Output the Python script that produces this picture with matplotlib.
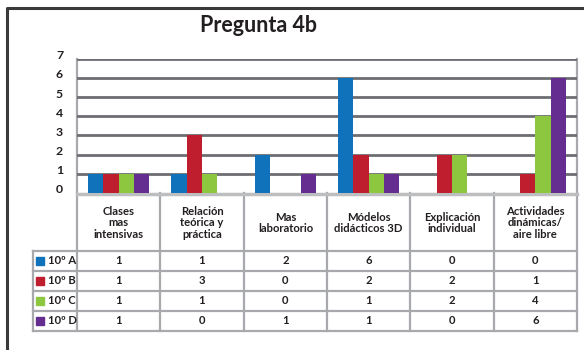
import numpy as np
import matplotlib.pyplot as plt
import matplotlib.transforms as mtransforms
from matplotlib.patches import Rectangle

plt.rcParams['font.family'] = ['Lato', 'DejaVu Sans']

# categorías y valores por curso
categorias = ['Clases\nmas\nintensivas', 'Relación\nteórica y\npráctica', 'Mas\nlaboratorio',
              'Módelos\ndidácticos 3D', 'Explicación\nindividual', 'Actividades\ndinámicas/\naire libre']
cursos = ['10º A', '10º B', '10º C', '10º D']
curso_a = [1, 1, 2, 6, 0, 0]
curso_b = [1, 3, 0, 2, 2, 1]
curso_c = [1, 1, 0, 1, 2, 4]
curso_d = [1, 0, 1, 1, 0, 6]
series = [curso_a, curso_b, curso_c, curso_d]
colores = ['#0f72bb', '#be1e2d', '#8dc63f', '#662d91']

W, H = 584, 350
fig = plt.figure(figsize=(W / 100, H / 100), dpi=100)

# capa en pixeles para el marco y la tabla
capa = fig.add_axes([0, 0, 1, 1])
capa.set_xlim(0, W)
capa.set_ylim(H, 0)
capa.axis('off')

# coordenadas del área del gráfico
x0, x1 = 77, 577
y_top, y_cero = 59, 192.7
ax = fig.add_axes([x0 / W, (H - y_cero) / H, (x1 - x0) / W, (y_cero - y_top) / H])

n = len(categorias)
x = np.arange(n) + 0.5
ancho = 0.184
for i, (vals, col) in enumerate(zip(series, colores)):
    ax.bar(x + (i - 1.5) * ancho, vals, ancho, color=col, zorder=3, label=cursos[i])

ax.set_xlim(0, n)
ax.set_ylim(0, 7)
ax.set_yticks(range(8))
ax.set_xticks([])
for g in range(1, 8):
    ax.axhline(g, color='#6d6e71', lw=2, zorder=1)
for s in ax.spines.values():
    s.set_visible(False)
ax.tick_params(axis='y', length=0, pad=10, labelsize=8.8, labelcolor='#231f20')
subir = mtransforms.ScaledTranslation(0, 3 / 72, fig.dpi_scale_trans)
for t in ax.get_yticklabels():
    t.set_fontweight('bold')
    t.set_transform(t.get_transform() + subir)
ax.patch.set_alpha(0)

# marco exterior
capa.plot([7, 7, W + 5], [H + 5, 8, 8], color='#3a3a3a', lw=2.2, solid_capstyle='butt')

capa.text(259, 25, 'Pregunta 4b', ha='center', va='center', fontsize=15.5,
          fontweight='bold', color='#231f20')

# tabla de datos
bordes = np.linspace(x0, x1, n + 1)
y_cab = 251
alto_fila = 20
y_fin = y_cab + alto_fila * len(cursos)
x_ley = 33
gris = '#a7a9ac'

capa.plot([x0, x1], [y_cero + 1, y_cero + 1], color='#bcbec0', lw=2.5, zorder=4)
capa.plot([x0, x0], [y_top, y_fin], color=gris, lw=1.6)
capa.plot([x1, x1], [y_top, y_fin], color=gris, lw=1.6)
for b in bordes[1:-1]:
    capa.plot([b, b], [y_cero, y_fin], color=gris, lw=1.6)
capa.plot([x_ley, x_ley], [y_cab, y_fin], color=gris, lw=1.6)
for k in range(len(cursos) + 1):
    yy = y_cab + k * alto_fila
    capa.plot([x_ley, x1], [yy, yy], color=gris, lw=1.6)

centros = (bordes[:-1] + bordes[1:]) / 2
for c, cat in zip(centros, categorias):
    capa.text(c, (y_cero + y_cab) / 2 + 1, cat, ha='center', va='center', fontsize=8.1,
              fontweight='bold', color='#231f20', linespacing=1.05)

for k, (nombre, vals, col) in enumerate(zip(cursos, series, colores)):
    yc = y_cab + k * alto_fila + alto_fila / 2
    capa.add_patch(Rectangle((36, yc - 4.5), 8, 8, color=col))
    capa.text(48, yc, nombre, ha='left', va='center', fontsize=8.1,
              fontweight='bold', color='#231f20')
    for c, v in zip(centros, vals):
        capa.text(c, yc, str(v), ha='center', va='center', fontsize=8.1,
                  fontweight='bold', color='#231f20')

fig.savefig('out.png', dpi=100)
